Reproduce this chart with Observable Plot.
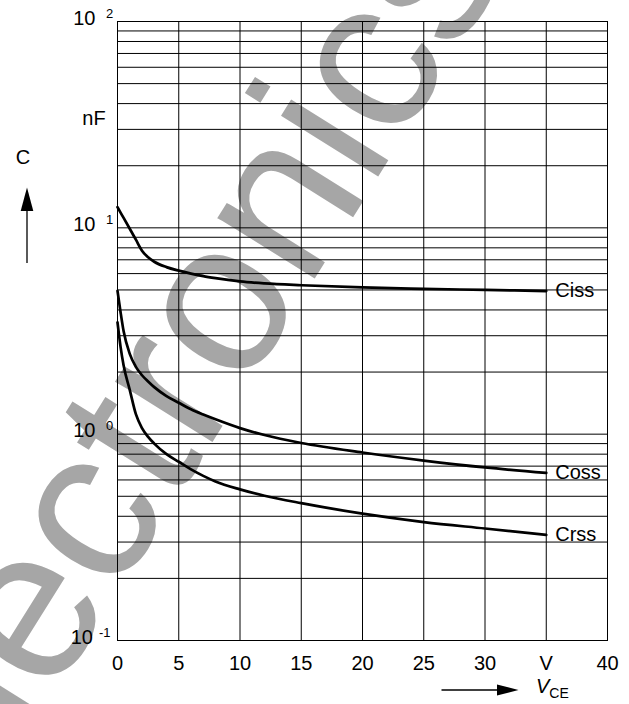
<!DOCTYPE html>
<html>
<head>
<meta charset="utf-8">
<script src="https://cdn.jsdelivr.net/npm/d3@7"></script>
<script src="https://cdn.jsdelivr.net/npm/@observablehq/plot@0.6"></script>
<style>
  html, body { margin: 0; padding: 0; background: #fff; }
  #chart svg { display: block; }
</style>
</head>
<body>
<div id="chart"></div>
<script>
// Collector-emitter voltage V_CE (V) at which the capacitances are sampled
const vce  = [0, 0.25, 0.5, 1, 1.5, 2, 2.5, 3, 4, 5, 6, 7, 8, 10, 12, 15, 20, 25, 30, 35];
// Capacitances in nF
const ciss = [12.6, 11.86, 11.17, 9.9, 8.76, 7.75, 7.2, 6.85, 6.45, 6.2, 6.0, 5.83, 5.7, 5.5, 5.38, 5.27, 5.14, 5.06, 5.0, 4.94];
const coss = [4.95, 3.9, 3.15, 2.45, 2.12, 1.93, 1.8, 1.69, 1.53, 1.42, 1.32, 1.245, 1.18, 1.07, 0.99, 0.906, 0.815, 0.745, 0.69, 0.649];
const crss = [3.48, 2.65, 2.15, 1.64, 1.25, 1.07, 0.97, 0.9, 0.8, 0.735, 0.675, 0.628, 0.59, 0.54, 0.503, 0.463, 0.412, 0.375, 0.349, 0.325];
const seriesNames = ["Ciss", "Coss", "Crss"];

// Axes
const xTicks = [0, 5, 10, 15, 20, 25, 30, 35, 40];
const xTickLabels = ["0", "5", "10", "15", "20", "25", "30", "V", "40"];
const yDecades = [0.1, 1, 10, 100];
const yExponents = ["-1", "0", "1", "2"];
const yMantissas = [1, 2, 3, 4, 5, 6, 7, 8, 9];

const watermark = "electronics.";

// Log grid: every mantissa of every decade, plus the top edge
const yGrid = yDecades.slice(0, -1).flatMap(d => yMantissas.map(m => +(m * d).toPrecision(3))).concat([yDecades[yDecades.length - 1]]);

const curves = [ciss, coss, crss].flatMap((vals, s) =>
  vals.map((c, i) => ({series: seriesNames[s], v: vce[i], c}))
);
const curveEnds = [ciss, coss, crss].map((vals, s) => ({series: seriesNames[s], v: vce[vce.length - 1], c: vals[vals.length - 1]}));

const decadeLabels = yDecades.map((v, i) => ({v, exp: yExponents[i]}));
const oneChar = decadeLabels.filter(d => d.exp.length === 1);
const twoChar = decadeLabels.filter(d => d.exp.length > 1);

const font = "'Liberation Sans', Arial, Helvetica, sans-serif";

function decadeMarks(data, baseDx, supDx) {
  return [
    Plot.text(data, {y: "v", text: () => "10", frameAnchor: "left", textAnchor: "end", lineAnchor: "bottom", dx: baseDx, dy: 3, fontSize: 20, fill: "#000"}),
    Plot.text(data, {y: "v", text: "exp", frameAnchor: "left", textAnchor: "start", lineAnchor: "bottom", dx: supDx, dy: -4, fontSize: 13, fill: "#000"})
  ];
}

const svg = Plot.plot({
  width: 629,
  height: 704,
  marginLeft: 117,
  marginRight: 22,
  marginTop: 21,
  marginBottom: 64,
  style: {fontFamily: font, background: "#fff", color: "#000", overflow: "hidden"},
  x: {domain: [0, 40], axis: null},
  y: {type: "log", domain: [0.1, 100], axis: null},
  marks: [
    // site watermark, behind everything
    Plot.text([watermark], {frameAnchor: "top-left", textAnchor: "start", lineAnchor: "bottom", rotate: -58, dx: -156, dy: 822, fontSize: 217, fill: "#a6a6a6"}),
    Plot.ruleY(yGrid, {stroke: "#000", strokeWidth: 1}),
    Plot.ruleX(xTicks, {stroke: "#000", strokeWidth: 1}),
    Plot.frame({stroke: "#000", strokeWidth: 1}),
    Plot.line(curves, {x: "v", y: "c", z: "series", stroke: "#000", strokeWidth: 2.7, curve: "monotone-x"}),
    Plot.text(curveEnds, {x: "v", y: "c", text: "series", textAnchor: "start", dx: 9, fontSize: 20, fill: "#000"}),
    Plot.text(xTicks, {x: d => d, text: (d, i) => xTickLabels[i], frameAnchor: "bottom", lineAnchor: "bottom", dy: 29, fontSize: 20, fill: "#000"}),
    ...decadeMarks(oneChar, -22, -11.5),
    ...decadeMarks(twoChar, -24.5, -18.5)
  ]
});

// Quantity labels and direction arrows beside the axes
const s = d3.select(svg);
const ink = "#000";
s.append("text").attr("x", 23).attr("y", 163.5).attr("text-anchor", "middle")
  .attr("font-size", 20).attr("font-family", font).attr("fill", ink).text("C");
s.append("text").attr("x", 94).attr("y", 125).attr("text-anchor", "middle")
  .attr("font-size", 20).attr("font-family", font).attr("fill", ink).text("nF");
s.append("line").attr("x1", 27).attr("x2", 27).attr("y1", 263).attr("y2", 208)
  .attr("stroke", ink).attr("stroke-width", 1.3);
s.append("path").attr("d", "M20.7,211L33.3,211L27,187.5Z").attr("fill", ink);

s.append("line").attr("x1", 441.5).attr("x2", 500).attr("y1", 690).attr("y2", 690)
  .attr("stroke", ink).attr("stroke-width", 1.3);
s.append("path").attr("d", "M497,684.5L497,695.5L518.5,690Z").attr("fill", ink);
const vLabel = s.append("text").attr("x", 536).attr("y", 693).attr("text-anchor", "start")
  .attr("font-size", 20).attr("font-family", font).attr("fill", ink).attr("font-style", "italic").text("V");
vLabel.append("tspan").attr("font-style", "normal").attr("font-size", 14).attr("dy", 5).text("CE");

document.getElementById("chart").append(svg);
</script>
</body>
</html>
